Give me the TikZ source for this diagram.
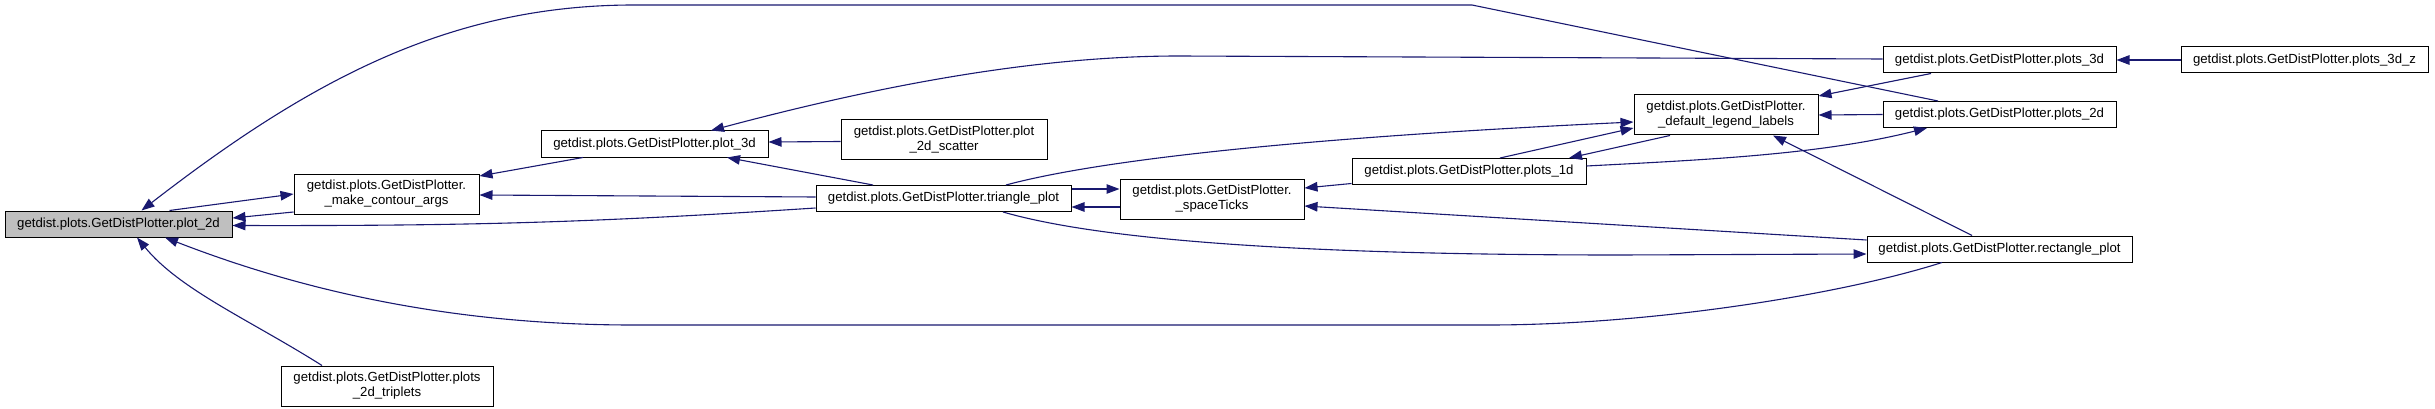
\documentclass[tikz,border=0pt]{standalone}
\usepackage{fontspec}
\setmainfont{Liberation Sans}
\usetikzlibrary{arrows.meta}
\definecolor{edgeblue}{HTML}{191970}
\definecolor{nodegray}{HTML}{BFBFBF}
\begin{document}
\begin{tikzpicture}[x=1pt,y=-1pt,
  box/.style={draw=black, line width=1pt, fill=white, inner sep=0pt, align=center,
    font=\fontsize{13.2}{15}\selectfont},
  edge/.style={draw=edgeblue, line width=1.1pt, -{Triangle[length=13pt,width=9.5pt]}}]
\useasboundingbox (0,0) rectangle (2435,409);
% nodes
\node[box, fill=nodegray, minimum width=227pt, minimum height=26pt] (plot2d) at (118.5,224) {getdist.plots.GetDistPlotter.plot\_2d};
\node[box, minimum width=185pt, minimum height=40pt] (mca) at (386.5,194) {getdist.plots.GetDistPlotter.\\\_make\_contour\_args};
\node[box, minimum width=227pt, minimum height=26pt] (plot3d) at (654.5,144) {getdist.plots.GetDistPlotter.plot\_3d};
\node[box, minimum width=212pt, minimum height=40pt] (trip) at (387,386) {getdist.plots.GetDistPlotter.plots\\\_2d\_triplets};
\node[box, minimum width=206pt, minimum height=40pt] (scat) at (944,139.5) {getdist.plots.GetDistPlotter.plot\\\_2d\_scatter};
\node[box, minimum width=255pt, minimum height=26pt] (tri) at (943.5,198.5) {getdist.plots.GetDistPlotter.triangle\_plot};
\node[box, minimum width=184pt, minimum height=40pt] (st) at (1212,199) {getdist.plots.GetDistPlotter.\\\_spaceTicks};
\node[box, minimum width=234pt, minimum height=26pt] (p1d) at (1469,171.5) {getdist.plots.GetDistPlotter.plots\_1d};
\node[box, minimum width=184pt, minimum height=40pt] (dll) at (1726,115) {getdist.plots.GetDistPlotter.\\\_default\_legend\_labels};
\node[box, minimum width=233pt, minimum height=26pt] (p3d) at (1999.5,60) {getdist.plots.GetDistPlotter.plots\_3d};
\node[box, minimum width=247pt, minimum height=26pt] (p3dz) at (2304.5,60) {getdist.plots.GetDistPlotter.plots\_3d\_z};
\node[box, minimum width=233pt, minimum height=26pt] (p2d) at (1999.5,114.5) {getdist.plots.GetDistPlotter.plots\_2d};
\node[box, minimum width=265pt, minimum height=26pt] (rect) at (1999.5,249) {getdist.plots.GetDistPlotter.rectangle\_plot};
% edges
\draw[edge] ([xshift=51pt]plot2d.north) -- (mca.west);
\draw[edge] ([yshift=-18pt]mca.west) -- ([yshift=6pt]plot2d.east);
\draw[edge] ([yshift=-9.5pt]tri.west) .. controls (600,222) and (480,226) .. ([yshift=-1.5pt]plot2d.east);
\draw[edge] ([xshift=-61.5pt]p2d.north) -- (1472,5) -- (634,5) .. controls (450,5) and (310,80) .. ([xshift=23pt]plot2d.north);
\draw[edge] ([xshift=-57.5pt]rect.south) .. controls (1840,295) and (1650,325) .. (1488,325) -- (633,325) .. controls (450,325) and (300,290) .. ([xshift=46.5pt]plot2d.south);
\draw[edge] ([xshift=-65pt]trip.north) .. controls (250,320) and (180,290) .. ([xshift=18.5pt]plot2d.south);
\draw[edge] ([xshift=-71.5pt]plot3d.south) -- ([yshift=18pt]mca.east);
\draw[edge] ([yshift=1.5pt]tri.west) -- ([yshift=-1pt]mca.east);
\draw[edge] ([yshift=1pt]p3d.west) -- (1179,56) .. controls (1050,56) and (900,80) .. ([xshift=56.5pt]plot3d.north);
\draw[edge] ([yshift=-2pt]scat.west) -- ([yshift=2pt]plot3d.east);
\draw[edge] ([xshift=-70.5pt]tri.north) -- ([xshift=72.5pt]plot3d.south);
\draw[edge] ([yshift=9.5pt]tri.east) -- ([yshift=10pt]st.west);
\draw[edge] ([yshift=-8pt]st.west) -- ([yshift=-8.5pt]tri.east);
\draw[edge] ([xshift=62.5pt]tri.north) .. controls (1080,165) and (1250,140) .. ([yshift=-7pt]dll.west);
\draw[edge] ([xshift=59.5pt]tri.south) .. controls (1100,240) and (1300,255) .. (1620,255) -- ([yshift=-5pt]rect.west);
\draw[edge] ([yshift=-12pt]p1d.west) -- ([yshift=11pt]st.east);
\draw[edge] ([yshift=9pt]rect.west) -- ([yshift=-7pt]st.east);
\draw[edge] ([xshift=31pt]p1d.north) -- ([yshift=-13pt]dll.west);
\draw[edge] ([xshift=-56pt]dll.south) -- ([xshift=100pt]p1d.north);
\draw[edge] ([yshift=5.5pt]p1d.east) .. controls (1700,160) and (1820,155) .. ([xshift=-72.5pt]p2d.south);
\draw[edge] ([xshift=-68.5pt]p3d.south) -- ([yshift=19pt]dll.east);
\draw[edge] (p2d.west) -- (dll.east);
\draw[edge] ([xshift=-27.5pt]rect.north) -- ([xshift=47pt]dll.south);
\draw[edge] (p3dz.west) -- (p3d.east);
\end{tikzpicture}
\end{document}
